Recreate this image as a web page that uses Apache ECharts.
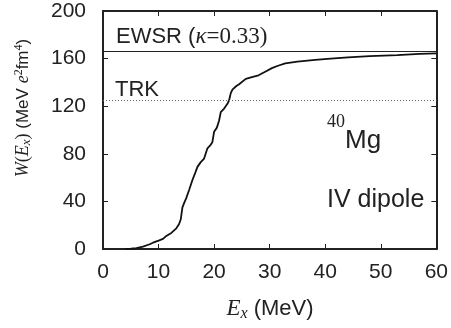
<!DOCTYPE html>
<html>
<head>
<meta charset="utf-8">
<script src="https://cdn.jsdelivr.net/npm/echarts@6/dist/echarts.min.js"></script>
<style>
  html, body { margin: 0; padding: 0; background: #fff; }
  #chart { width: 451px; height: 328px; }
</style>
</head>
<body>
<div id="chart"></div>
<script>
// excitation energy (MeV) and cumulative strength W(Ex)
const energies = [4.0, 5.0, 6.0, 7.2, 8.4, 9.0, 10.0, 10.8, 11.4, 12.3, 13.2, 13.7, 14.0, 14.3, 14.6,
  15.0, 15.5, 16.1, 16.6, 17.0, 17.6, 18.2, 18.8, 19.3, 19.7, 20.0, 20.5, 20.9, 21.2, 21.8, 22.4,
  22.7, 23.0, 23.3, 24.0, 24.5, 25.7, 26.8, 28.0, 29.2, 30.4, 31.5, 32.8, 35.0, 38.2, 41.0, 44.1,
  48.0, 53.0, 57.0, 60.0]
const strength = [0, 0.3, 0.8, 2, 4, 5.3, 7, 8.5, 11, 13.5, 17.4, 21, 25, 35, 38.5,
  43, 49.6, 58, 64, 69, 73, 76, 84.6, 87, 90, 98.6, 102, 108, 115, 118, 122,
  125, 131, 134, 137, 138.5, 143, 144.5, 146, 149, 152, 154, 156, 157.5, 159, 160, 161,
  162, 163, 164, 164.4]
const sumRules = [
  { name: 'EWSR', value: 166 },
  { name: 'TRK', value: 125 }
]
const xTicks = [0, 10, 20, 30, 40, 50, 60]
const yTicks = [0, 40, 80, 120, 160, 200]

const chart = echarts.init(document.getElementById('chart'))

const sans = '"Liberation Sans", Arial, sans-serif'
const serif = '"Liberation Serif", "Times New Roman", serif'

const axisCommon = {
  type: 'value',
  splitLine: { show: false },
  axisLine: { show: true, onZero: false, lineStyle: { color: '#222', width: 2 } },
  axisTick: { show: true, inside: true, length: 5, lineStyle: { color: '#222', width: 1 } }
}

const option = {
  animation: false,
  grid: { left: 103, right: 12, top: 11, bottom: 79 },
  xAxis: [
    Object.assign({}, axisCommon, {
      min: xTicks[0], max: xTicks[xTicks.length - 1], interval: 10, position: 'bottom',
      axisLabel: { color: '#222', fontSize: 21, fontFamily: sans, margin: 13 }
    }),
    Object.assign({}, axisCommon, {
      min: xTicks[0], max: xTicks[xTicks.length - 1], interval: 10, position: 'top',
      axisLabel: { show: false }
    })
  ],
  yAxis: [
    Object.assign({}, axisCommon, {
      min: yTicks[0], max: yTicks[yTicks.length - 1], interval: 40, position: 'left',
      axisLabel: { color: '#222', fontSize: 21, fontFamily: sans, margin: 17 }
    }),
    Object.assign({}, axisCommon, {
      min: yTicks[0], max: yTicks[yTicks.length - 1], interval: 40, position: 'right',
      axisLabel: { show: false }
    })
  ],
  series: [
    {
      type: 'line',
      data: energies.map((e, i) => [e, strength[i]]),
      symbol: 'none',
      lineStyle: { color: '#111', width: 1.8 },
      markLine: {
        silent: true,
        symbol: 'none',
        label: { show: false },
        data: [
          { yAxis: sumRules[0].value, lineStyle: { color: '#222', width: 1, type: 'solid' } },
          { yAxis: sumRules[1].value, lineStyle: { color: '#666', width: 1, type: [1, 2] } }
        ]
      }
    }
  ],
  graphic: [
    {
      type: 'text', left: 116, top: 25,
      style: {
        text: '{a|EWSR (}{k|κ}{b|=0.33)}',
        rich: {
          a: { fontFamily: sans, fontSize: 22, fill: '#222' },
          k: { fontFamily: serif, fontStyle: 'italic', fontSize: 23, fill: '#222' },
          b: { fontFamily: serif, fontSize: 23, fill: '#222' }
        }
      }
    },
    {
      type: 'text', left: 115, top: 79,
      style: { text: 'TRK', fontFamily: sans, fontSize: 22, fill: '#222' }
    },
    {
      type: 'text', left: 327, top: 113,
      style: { text: '40', fontFamily: serif, fontSize: 18, fill: '#222' }
    },
    {
      type: 'text', left: 345, top: 128,
      style: { text: 'Mg', fontFamily: sans, fontSize: 26, fill: '#222' }
    },
    {
      type: 'text', left: 327, top: 188,
      style: { text: 'IV dipole', fontFamily: sans, fontSize: 25, fill: '#222' }
    },
    {
      type: 'text', x: 270, y: 309,
      style: {
        text: '{i|E}{s|x}{a| (MeV)}',
        align: 'center', verticalAlign: 'middle',
        rich: {
          i: { fontFamily: serif, fontStyle: 'italic', fontSize: 23, fill: '#222' },
          s: { fontFamily: serif, fontStyle: 'italic', fontSize: 16, fill: '#222', verticalAlign: 'bottom', padding: [9, 0, 0, 0] },
          a: { fontFamily: sans, fontSize: 22, fill: '#222' }
        }
      }
    },
    {
      type: 'text', x: 23, y: 108, rotation: Math.PI / 2,
      style: {
        text: '{i|W}{p|(}{i|E}{s|x}{p|)}{a| (MeV }{i|e}{u|2}{a|fm}{u|4}{a|)}',
        align: 'center', verticalAlign: 'middle',
        rich: {
          i: { fontFamily: serif, fontStyle: 'italic', fontSize: 18, fill: '#222' },
          p: { fontFamily: serif, fontSize: 18, fill: '#222' },
          s: { fontFamily: serif, fontStyle: 'italic', fontSize: 13, fill: '#222', verticalAlign: 'bottom', padding: [7, 0, 0, 0] },
          u: { fontFamily: serif, fontSize: 12, fill: '#222', verticalAlign: 'top', padding: [0, 0, 7, 0] },
          a: { fontFamily: sans, fontSize: 17, fill: '#222' }
        }
      }
    }
  ]
}

chart.setOption(option)
</script>
</body>
</html>
